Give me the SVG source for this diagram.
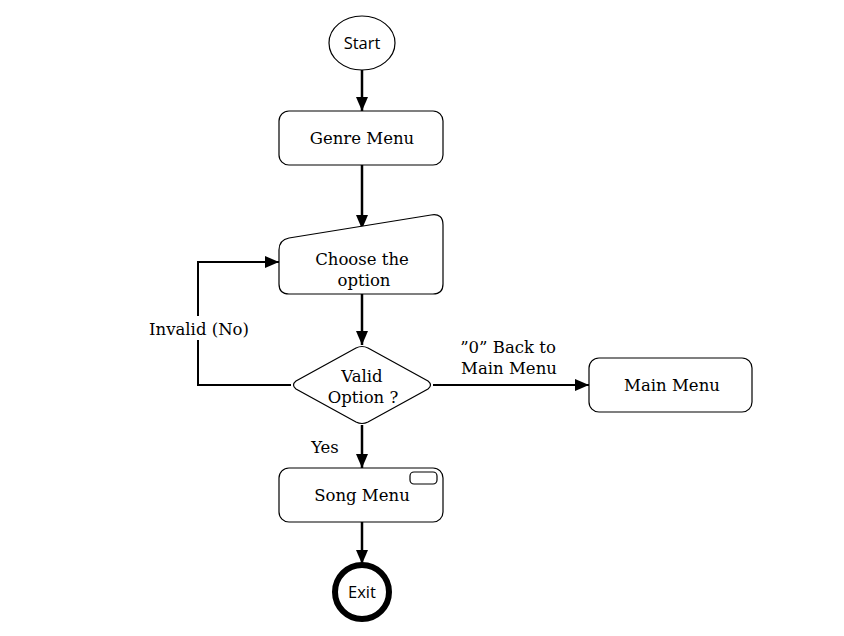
<svg xmlns="http://www.w3.org/2000/svg" width="844" height="636" viewBox="0 0 844 636">
<style>
.n{fill:#fff;stroke:#000;stroke-width:1.2}
.t{font-family:"DejaVu Serif","Liberation Serif",serif;font-size:16.5px;fill:#000;text-anchor:middle}
.s{font-family:"Open Sans","DejaVu Sans",sans-serif;font-size:16.5px;fill:#000;text-anchor:middle}
.c{fill:none;stroke:#000;stroke-width:2}
</style>
<defs>
<marker id="a" markerWidth="14" markerHeight="12" refX="14" refY="6" orient="auto" markerUnits="userSpaceOnUse" viewBox="0 0 14 12">
<path d="M0,0 L14,6 L0,12 z" fill="#000"/>
</marker>
</defs>
<rect width="844" height="636" fill="#fff"/>
<g id="connectors">
<line class="c" x1="362" y1="70" x2="362" y2="111" marker-end="url(#a)" style="stroke-width:2.5"/>
<line class="c" x1="362" y1="165" x2="362" y2="229" marker-end="url(#a)" style="stroke-width:2.5"/>
<line class="c" x1="362" y1="294" x2="362" y2="345" marker-end="url(#a)" style="stroke-width:2.5"/>
<polyline class="c" points="291,385 198,385 198,262 279,262" marker-end="url(#a)"/>
<line class="c" x1="433" y1="385" x2="589" y2="385" marker-end="url(#a)"/>
<line class="c" x1="362" y1="425" x2="362" y2="468" marker-end="url(#a)" style="stroke-width:2.5"/>
<line class="c" x1="362" y1="522" x2="362" y2="564" marker-end="url(#a)" style="stroke-width:2.5"/>
<rect x="140" y="316" width="116" height="24" fill="#fff"/>
<text class="t" x="199" y="335">Invalid (No)</text>
<text class="t" x="508" y="353">”0” Back to</text>
<text class="t" x="509" y="374">Main Menu</text>
<text class="t" x="325" y="453">Yes</text>
</g>
<g id="start">
<ellipse class="n" cx="362" cy="43" rx="33" ry="27"/>
<text class="s" x="362" y="49">Start</text>
</g>
<g id="genre">
<rect class="n" x="279" y="111" width="164" height="54" rx="10"/>
<text class="t" x="362" y="144">Genre Menu</text>
</g>
<g id="choose">
<path class="n" d="M289,238 L431,215 Q443,213 443,225 L443,284 Q443,294 433,294 L289,294 Q279,294 279,284 L279,250 Q279,240 289,238 Z"/>
<text class="t" x="362" y="265">Choose the</text>
<text class="t" x="364" y="286">option</text>
</g>
<g id="valid">
<path class="n" d="M356,348 Q362,345 368,348 L428,381 Q433,385 428,389 L368,422 Q362,425 356,422 L296,389 Q291,385 296,381 Z"/>
<text class="t" x="362" y="382">Valid</text>
<text class="t" x="363" y="403">Option ?</text>
</g>
<g id="mainmenu">
<rect class="n" x="589" y="358" width="163" height="54" rx="10"/>
<text class="t" x="672" y="391">Main Menu</text>
</g>
<g id="song">
<rect class="n" x="279" y="468" width="164" height="54" rx="10"/>
<rect class="n" x="410" y="472" width="27" height="12" rx="4"/>
<text class="t" x="362" y="501">Song Menu</text>
</g>
<g id="exit">
<circle cx="362" cy="592" r="27" fill="#fff" stroke="#000" stroke-width="6"/>
<text class="s" x="362" y="598">Exit</text>
</g>
</svg>
